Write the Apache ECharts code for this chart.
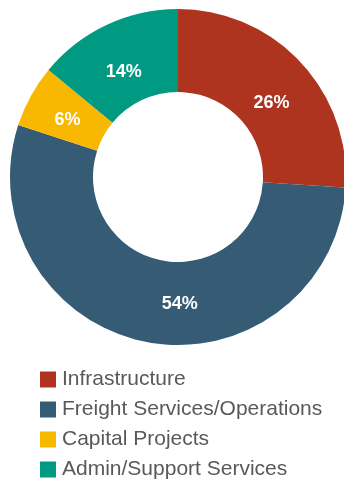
<!DOCTYPE html>
<html>
<head>
<meta charset="utf-8">
<script src="https://cdn.jsdelivr.net/npm/echarts@6/dist/echarts.min.js"></script>
<style>
  html, body { margin: 0; padding: 0; background: #fff; }
  #chart { width: 344px; height: 479px; }
</style>
</head>
<body>
<div id="chart"></div>
<script>
// Budget share by category (percent)
const categories = ['Infrastructure', 'Freight Services/Operations', 'Capital Projects', 'Admin/Support Services'];
const shares = [26, 54, 6, 14];
const colors = ['#AF341F', '#365B75', '#F9B800', '#009A82'];
// per-slice nudges of the value labels inside the ring
const labelOffsets = [[-1, 15], [26, 0], [3, 5], [1, 12]];

const chart = echarts.init(document.getElementById('chart'), null, { renderer: 'canvas' });

const data = categories.map((name, i) => ({
  name,
  value: shares[i],
  itemStyle: { color: colors[i] },
  label: { offset: labelOffsets[i] }
}));

chart.setOption({
  animation: false,
  legend: {
    orient: 'vertical',
    left: 35,
    top: 364,
    height: 120,
    itemWidth: 16,
    itemHeight: 16,
    itemGap: 9,
    icon: 'rect',
    selectedMode: false,
    textStyle: {
      fontFamily: 'Liberation Sans, Arial, sans-serif',
      fontSize: 21,
      color: '#595959',
      padding: [0, 0, 0, 1]
    },
    data: categories
  },
  series: [{
    type: 'pie',
    center: [178, 177],
    radius: [85, 168],
    startAngle: 90,
    clockwise: true,
    avoidLabelOverlap: false,
    silent: true,
    label: {
      show: true,
      position: 'inside',
      formatter: '{c}%',
      color: '#fff',
      fontFamily: 'Liberation Sans, Arial, sans-serif',
      fontWeight: 'bold',
      fontSize: 18
    },
    labelLine: { show: false },
    itemStyle: { borderWidth: 0 },
    data
  }]
});
</script>
</body>
</html>
